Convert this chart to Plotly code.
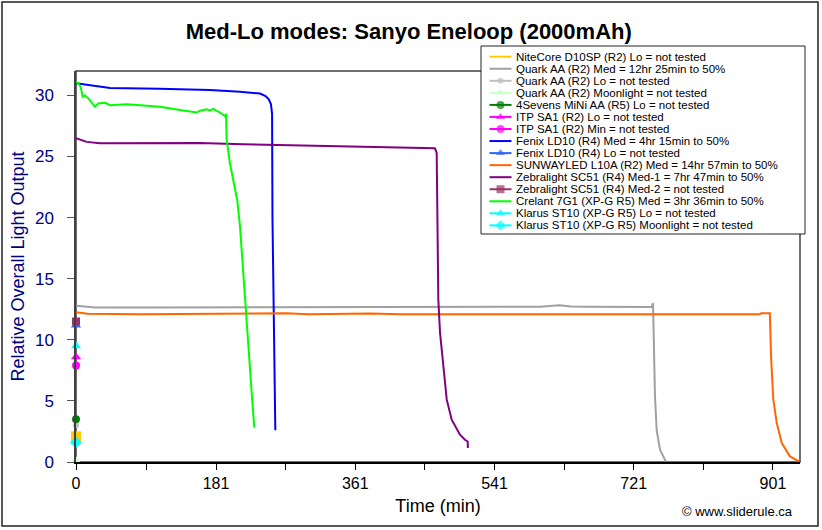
import plotly.graph_objects as go

# ---------------- data ----------------
TITLE = "Med-Lo modes: Sanyo Eneloop (2000mAh)"
X_TITLE = "Time (min)"
Y_TITLE = "Relative Overall Light Output"
CREDIT = "© www.sliderule.ca"

x_tick_vals = [0, 90.5, 181, 271, 361, 451, 541, 631, 721, 811, 901]
x_tick_text = ["0", "", "181", "", "361", "", "541", "", "721", "", "901"]
y_tick_vals = [0, 5, 10, 15, 20, 25, 30]

legend_names = [
    "NiteCore D10SP (R2) Lo = not tested",
    "Quark AA (R2) Med = 12hr 25min to 50%",
    "Quark AA (R2) Lo = not tested",
    "Quark AA (R2) Moonlight = not tested",
    "4Sevens MiNi AA (R5) Lo = not tested",
    "ITP SA1 (R2) Lo = not tested",
    "ITP SA1 (R2) Min = not tested",
    "Fenix LD10 (R4) Med = 4hr 15min to 50%",
    "Fenix LD10 (R4) Lo = not tested",
    "SUNWAYLED L10A (R2) Med = 14hr 57min to 50%",
    "Zebralight SC51 (R4) Med-1 = 7hr 47min to 50%",
    "Zebralight SC51 (R4) Med-2 = not tested",
    "Crelant 7G1 (XP-G R5) Med = 3hr 36min to 50%",
    "Klarus ST10 (XP-G R5) Lo = not tested",
    "Klarus ST10 (XP-G R5) Moonlight = not tested",
]

# runtime curves (minutes, relative output)
quark_med_t = [0, 25, 100, 200, 300, 400, 500, 600, 625, 640, 660, 700, 744, 746, 747.5, 748.5, 750.7, 755, 762.4]
quark_med_v = [12.78, 12.65, 12.65, 12.65, 12.65, 12.66, 12.66, 12.7, 12.82, 12.72, 12.7, 12.68, 12.68, 13.0, 9.0, 5.4, 2.6, 1.0, 0.05]

fenix_med_t = [0, 20, 44, 108, 173, 212, 238, 245, 249, 252, 253.5, 254, 254.5, 256, 257.7]
fenix_med_v = [31.0, 30.8, 30.6, 30.55, 30.45, 30.3, 30.15, 29.95, 29.7, 29.3, 28.5, 20.0, 17.0, 10.0, 2.6]

sunway_med_t = [0, 15, 85, 272, 300, 380, 420, 560, 620, 700, 884, 886, 897, 898.6, 901.5, 905.9, 912.4, 923, 934.6]
sunway_med_v = [12.26, 12.13, 12.1, 12.18, 12.1, 12.16, 12.1, 12.12, 12.1, 12.1, 12.1, 12.18, 12.18, 8.6, 5.1, 3.2, 1.55, 0.46, 0.05]

zebra_med1_t = [0, 13.8, 31, 160, 216, 300, 445, 464, 466.3, 468.4, 470.6, 474.9, 479.3, 485.7, 496.4, 502.9, 506.4, 506.6]
zebra_med1_v = [26.5, 26.2, 26.08, 26.1, 26.0, 25.9, 25.75, 25.67, 25.3, 13.3, 10.6, 7.8, 5.1, 3.46, 2.23, 1.82, 1.68, 1.14]

crelant_med_t = [0, 3, 6, 8.7, 11.6, 15.9, 24.6, 28.8, 37.5, 44, 65.5, 82.7, 108.6, 134.5, 156, 160.3, 169, 173.2,
                 177.5, 186.2, 192.6, 193.9, 194.8, 199, 205.6, 208.5, 212, 215.5, 218.5, 222.8, 227.2, 230.5]
crelant_med_v = [31.1, 31.0, 30.7, 29.9, 30.0, 29.76, 29.07, 29.35, 29.4, 29.2, 29.27, 29.2, 29.07, 28.8, 28.6, 28.75,
                 28.86, 28.75, 28.9, 28.6, 28.3, 28.5, 26.35, 24.45, 22.5, 21.4, 19.3, 16.0, 13.3, 9.45, 5.6, 2.8]

# single "not tested" readings at time 0
nitecore_lo_v = [2.1]
quark_lo_v = [3.0]
quark_moon_v = [0.1]
foursevens_lo_v = [3.5]
itp_lo_v = [8.6]
itp_min_v = [7.9]
fenix_lo_v = [11.2]
zebra_med2_v = [11.5]
klarus_lo_v = [9.5]
klarus_moon_v = [1.6]

# ---------------- styling ----------------
FONT = "Arial, Liberation Sans, sans-serif"
L, R, T, B = 76, 22, 71, 68
W, H = 822, 530
PW, PH = W - L - R, H - T - B


def xp(px):
    return (px - L) / PW


def yp(py):
    return (H - B - py) / PH


# (name index, x, y, color, mode, symbol, size, line width)
series = [
    (0, [0], nitecore_lo_v, "#FFCC00", "markers", "square", 10, 2),
    (1, quark_med_t, quark_med_v, "#A0A0A0", "lines", None, 0, 2),
    (2, [0], quark_lo_v, "#C0C0C0", "markers", "circle", 6, 2),
    (3, [0], quark_moon_v, "#CCFFCC", "markers", "triangle-up", 9, 2),
    (4, [0], foursevens_lo_v, "#008000", "markers", "circle", 8, 2),
    (5, [0], itp_lo_v, "#FF00FF", "markers", "triangle-up", 9, 2),
    (6, [0], itp_min_v, "#FF00FF", "markers", "circle", 8, 2),
    (7, fenix_med_t, fenix_med_v, "#0000FF", "lines", None, 0, 2),
    (8, [0], fenix_lo_v, "#3366FF", "markers", "triangle-up", 9, 2),
    (9, sunway_med_t, sunway_med_v, "#FF6600", "lines", None, 0, 2),
    (10, zebra_med1_t, zebra_med1_v, "#800080", "lines", None, 0, 2),
    (11, [0], zebra_med2_v, "#993366", "markers", "square", 8, 2),
    (12, crelant_med_t, crelant_med_v, "#00FF00", "lines", None, 0, 2),
    (13, [0], klarus_lo_v, "#00FFFF", "markers", "triangle-up", 9, 2),
    (14, [0], klarus_moon_v, "#00FFFF", "markers", "diamond", 9, 2),
]

fig = go.Figure()
for idx, xs, ys, col, mode, sym, size, lw in series:
    kw = dict(x=xs, y=ys, name=legend_names[idx], mode=mode, showlegend=False, cliponaxis=False)
    if mode == "lines":
        kw["line"] = dict(color=col, width=lw)
    else:
        kw["marker"] = dict(color=col, symbol=sym, size=size, line=dict(width=0))
    fig.add_trace(go.Scatter(**kw))

# ---------------- custom compact legend ----------------
LEG_L, LEG_R, LEG_T, LEG_B = 481, 805, 46, 234
ROW0, ROWH = 56.7, 12.05
shapes = [
    dict(type="rect", xref="paper", yref="paper", x0=xp(2), x1=xp(818), y0=yp(2), y1=yp(526),
         line=dict(color="#222", width=1.5), layer="below"),
    dict(type="rect", xref="paper", yref="paper", x0=0, x1=1, y0=0, y1=1,
         line=dict(color="#404040", width=1.5), layer="below"),
    dict(type="rect", xref="paper", yref="paper", x0=xp(LEG_L), x1=xp(LEG_R), y0=yp(LEG_T), y1=yp(LEG_B),
         line=dict(color="#222", width=1), fillcolor="white", layer="below"),
]
annotations = []
mk_x, mk_y, mk_c, mk_s, mk_z = [], [], [], [], []
for idx, xs, ys, col, mode, sym, size, lw in series:
    ry = ROW0 + ROWH * idx
    shapes.append(dict(type="line", xref="paper", yref="paper", x0=xp(489.5), x1=xp(511.5),
                       y0=yp(ry), y1=yp(ry), line=dict(color=col, width=2), layer="below"))
    if mode == "markers":
        mk_x.append(500.5)
        mk_y.append(ry)
        mk_c.append(col)
        mk_s.append(sym)
        mk_z.append(min(size, 8))
    annotations.append(dict(xref="paper", yref="paper", x=xp(514.5), y=yp(ry), xanchor="left", yanchor="middle",
                            text=legend_names[idx], showarrow=False, borderpad=0,
                            font=dict(family=FONT, size=11.5, color="black")))

fig.add_trace(go.Scatter(x=mk_x, y=mk_y, mode="markers", xaxis="x2", yaxis="y2", showlegend=False,
                         cliponaxis=False, hoverinfo="skip",
                         marker=dict(color=mk_c, symbol=mk_s, size=mk_z, line=dict(width=0))))

annotations.append(dict(xref="paper", yref="paper", x=xp(795), y=yp(511.5), xanchor="right", yanchor="middle",
                        text=CREDIT, showarrow=False, font=dict(family=FONT, size=13, color="black")))

fig.update_layout(
    width=W, height=H,
    margin=dict(l=L, r=R, t=T, b=B, pad=0),
    paper_bgcolor="white", plot_bgcolor="white",
    showlegend=False,
    title=dict(text="<b>" + TITLE + "</b>", x=xp(436), xanchor="center", y=1 - 31 / H, yanchor="middle",
               font=dict(family=FONT, size=22, color="black")),
    xaxis=dict(range=[0, 936], tickvals=x_tick_vals, ticktext=x_tick_text, ticks="outside", ticklen=6,
               tickcolor="black", showline=True, linecolor="black", linewidth=1.5, showgrid=False,
               zeroline=False, tickfont=dict(family=FONT, size=16, color="black"),
               title=dict(text=X_TITLE, font=dict(family=FONT, size=18, color="black"), standoff=8)),
    yaxis=dict(range=[0, 32], tickvals=y_tick_vals, ticks="outside", ticklen=7, tickcolor="#555",
               showline=True, linecolor="#404040", linewidth=1.5, showgrid=False, zeroline=False,
               ticklabelstandoff=10,
               tickfont=dict(family=FONT, size=17, color="#000080"),
               title=dict(text=Y_TITLE, font=dict(family=FONT, size=18, color="#000080"), standoff=6)),
    xaxis2=dict(overlaying="x", range=[L, W - R], visible=False),
    yaxis2=dict(overlaying="y", range=[H - B, T], visible=False),
    shapes=shapes,
    annotations=annotations,
)

fig.write_html("out.html", config={"displayModeBar": False},
               post_script="document.body.style.margin='0px';")
